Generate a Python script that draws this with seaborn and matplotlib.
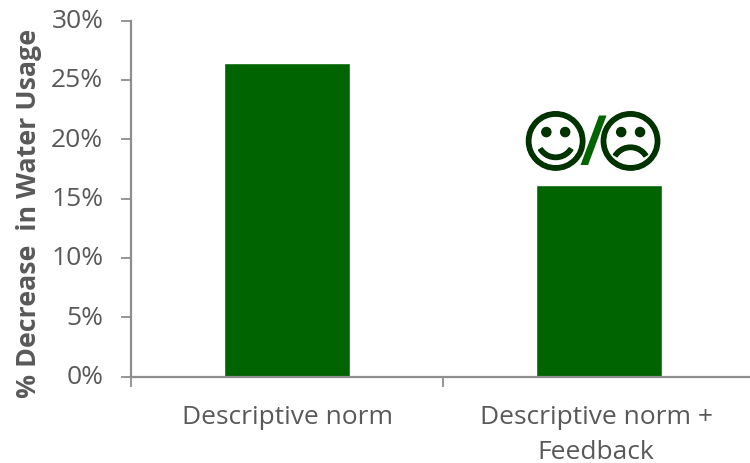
import matplotlib
matplotlib.use("Agg")
import matplotlib.pyplot as plt
import matplotlib.patheffects as pe
import pandas as pd
import seaborn as sns

categories = ["Descriptive norm", "Descriptive norm +\nFeedback"]
decrease = [26.4, 16.1]
y_ticks = [0, 5, 10, 15, 20, 25, 30]

GREEN = "#006400"
DARK = "#003300"
GREY = "#595959"
AXIS = "#8c8f8c"
FONT_SIZE = 19

sns.set_theme(style="white")
plt.rcParams["font.family"] = ["Open Sans", "DejaVu Sans"]

W, H = 750, 464
fig = plt.figure(figsize=(W / 100, H / 100), dpi=100)
left, right, top, bottom = 131, 755, 21.5, 377.5
ax = fig.add_axes([left / W, 1 - bottom / H, (right - left) / W, (bottom - top) / H])

df = pd.DataFrame({"condition": categories, "decrease": decrease})
sns.barplot(data=df, x="condition", y="decrease", color=GREEN, saturation=1, width=0.405, ax=ax)

ax.set_xlim(-0.5, 1.5)
ax.set_ylim(0, 30)
ax.set_yticks(y_ticks)
ax.set_yticklabels([f"{t}%" for t in y_ticks], va="center")
ax.set_xticks([-0.5, 0.5, 1.5])
ax.set_xticklabels(["", "", ""])

# Category labels sit between the tick marks, so they are placed as annotations
for i, label in enumerate(categories):
    ax.annotate(label, xy=(i, 0), xycoords=("data", "axes fraction"),
                xytext=(-3 * i, -28), textcoords="offset pixels",
                ha="center", va="top", fontsize=FONT_SIZE, color=GREY, linespacing=1.52)

sns.despine(ax=ax)
for side in ("left", "bottom"):
    ax.spines[side].set_color(AXIS)
    ax.spines[side].set_linewidth(1.6)
ax.tick_params(axis="both", direction="out", length=7.2, width=1.3, color=AXIS,
               labelcolor=GREY, labelsize=FONT_SIZE, left=True, bottom=True)
ax.tick_params(axis="y", pad=12.7)

ax.set_xlabel("")
ax.set_ylabel("% Decrease  in Water Usage", fontsize=19.3, fontweight="bold", color=GREY)
ax.yaxis.set_label_coords((42 - left) / (right - left), (bottom - 213.5) / (bottom - top))

# Mixed-reaction faces above the feedback bar
face_y = 19.4
thicker = [pe.withStroke(linewidth=1.0, foreground=DARK)]
ax.text(0.861, face_y, "\u263A", family="DejaVu Sans", fontsize=48, color=DARK,
        ha="center", va="center", path_effects=thicker)
ax.text(1.101, face_y, "\u2639", family="DejaVu Sans", fontsize=48, color=DARK,
        ha="center", va="center", path_effects=thicker)
ax.text(0.982, face_y, "/", family="Open Sans", fontsize=50, fontweight="semibold", color=GREEN,
        ha="center", va="center")

fig.savefig("out.png", dpi=100, facecolor="white")
